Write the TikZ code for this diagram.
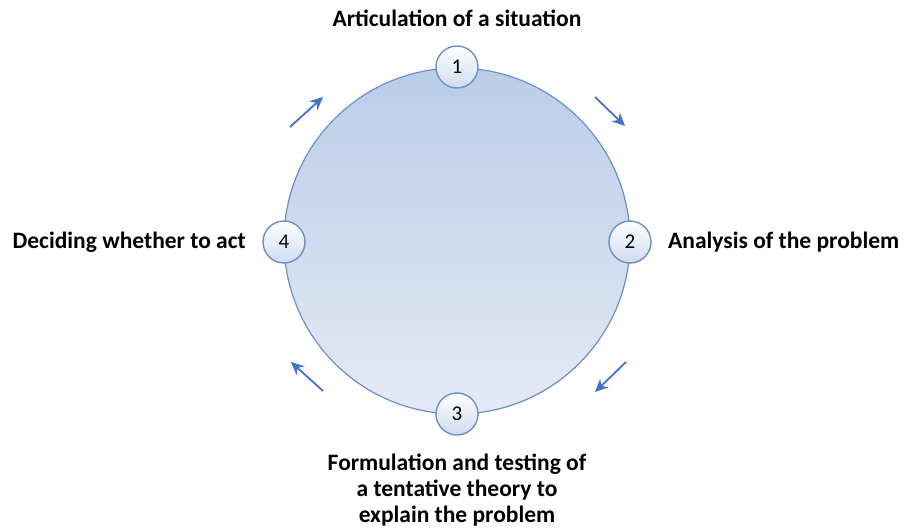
\documentclass[tikz,border=0pt]{standalone}
\usepackage{fontspec}
\setmainfont{Carlito}
\usetikzlibrary{arrows.meta}
\definecolor{ringline}{HTML}{6F8EC4}
\definecolor{topfill}{HTML}{B9CDE9}
\definecolor{botfill}{HTML}{E4EAF4}
\definecolor{arrowblue}{HTML}{4472C4}
\tikzset{
  bigcirc/.style={circle, draw=ringline, line width=1.2pt, minimum size=346pt, inner sep=0pt, top color=topfill, bottom color=botfill},
  numcirc/.style={circle, draw=ringline, line width=1.4pt, minimum size=42pt, inner sep=0pt, top color=white, bottom color=topfill!70, font=\fontsize{21}{24}\selectfont},
  lbl/.style={font=\bfseries\fontsize{23.5}{26}\selectfont, inner sep=0pt},
  flow/.style={draw=arrowblue, line width=1.8pt, -{Stealth[length=13pt,width=12pt]}}
}
\begin{document}
\begin{tikzpicture}[x=1pt,y=-1pt]
\useasboundingbox (0,0) rectangle (908,530);
\node[bigcirc] (big) at (457,241) {};
\node[numcirc] (n1) at (457,67) {1};
\node[numcirc] (n2) at (630,242) {2};
\node[numcirc] (n3) at (457,414) {3};
\node[numcirc] (n4) at (284,242) {4};
\node[lbl] (t1) at (457,18) {Articulation of a situation};
\node[lbl, anchor=west] (t2) at (668,242) {Analysis of the problem};
\node[lbl, anchor=east] (t4) at (246,242) {Deciding whether to act};
\node[lbl, align=center] (t3) at (457,490) {Formulation and testing of\\a tentative theory to\\explain the problem};
\coordinate (a1s) at (595,97); \coordinate (a1e) at (625,126);
\coordinate (a2s) at (626,362); \coordinate (a2e) at (595,392);
\coordinate (a3s) at (323,391); \coordinate (a3e) at (291,362);
\coordinate (a4s) at (290,127); \coordinate (a4e) at (323,97);
\draw[flow] (a1s) -- (a1e);
\draw[flow] (a2s) -- (a2e);
\draw[flow] (a3s) -- (a3e);
\draw[flow] (a4s) -- (a4e);
\end{tikzpicture}
\end{document}
